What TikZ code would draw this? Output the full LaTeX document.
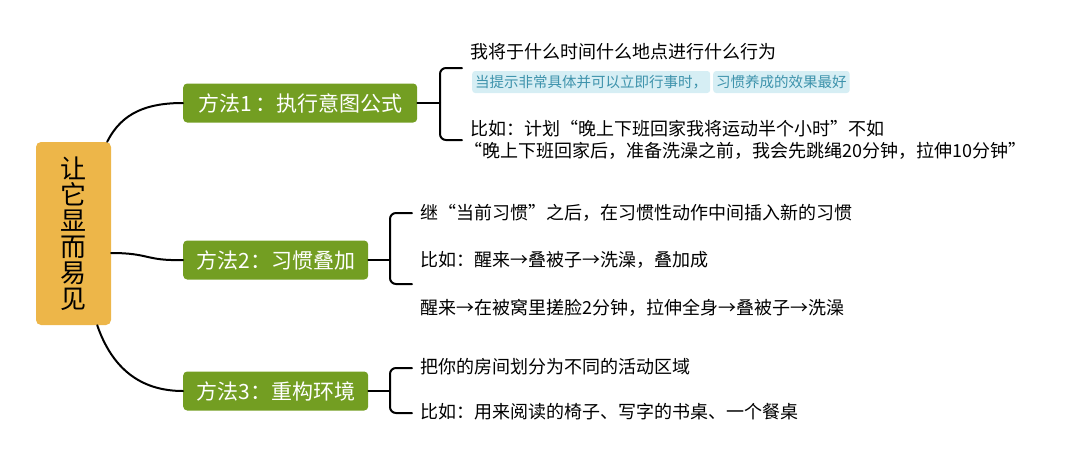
\documentclass[tikz,border=0pt]{standalone}
\usepackage{fontspec}
\setmainfont{Noto Sans CJK SC}
\definecolor{rootorange}{HTML}{EDB649}
\definecolor{methodgreen}{HTML}{739E22}
\definecolor{tagfill}{HTML}{D6EEF4}
\definecolor{tagtext}{HTML}{3E93AC}
\begin{document}
\begin{tikzpicture}[x=1pt,y=-1pt,line cap=round,line join=round,
  branch/.style={line width=2pt},
  rootbox/.style={fill=rootorange,rounded corners=5pt,minimum width=75pt,minimum height=183pt,
    align=center,font=\fontsize{26}{26}\selectfont},
  methodbox/.style={fill=methodgreen,text=white,rounded corners=4pt,anchor=west,
    minimum height=39pt,inner sep=0pt,font=\fontsize{21}{24}\selectfont},
  leaf/.style={anchor=west,inner sep=0pt,font=\fontsize{18}{20}\selectfont},
  tagbox/.style={anchor=west,fill=tagfill,text=tagtext,rounded corners=3pt,inner xsep=3pt,
    minimum height=22pt,inner ysep=0pt,font=\fontsize{14.5}{16}\selectfont}]
  \useasboundingbox (0,0) rectangle (1080,467);
  % root
  \node[rootbox] (root) at (73.5,233.5) {让\\它\\显\\而\\易\\见};
  % methods
  \node[methodbox,minimum width=234pt] (m1) at (183,103) {方法1\,：执行意图公式};
  \node[methodbox,minimum width=185pt] (m2) at (183,260) {方法2：习惯叠加};
  \node[methodbox,minimum width=185pt] (m3) at (183,391) {方法3：重构环境};
  \draw[branch] ([xshift=-4pt]root.north east) .. controls (122,112) and (148,103) .. (m1.west);
  \draw[branch] ([yshift=-19.5pt]root.east) .. controls (150,253) and (145,261) .. (m2.west);
  \draw[branch] ([xshift=-14pt]root.south east) .. controls (112,368) and (140,391) .. (m3.west);
  % method 1
  \node[leaf] (t11) at (470,52) {我将于什么时间什么地点进行什么行为};
  \node[tagbox] (g1) at (472,82) {当提示非常具体并可以立即行事时，};
  \node[tagbox] (g2) at (713,82) {习惯养成的效果最好};
  \node[leaf] (t12) at (470,129) {比如：计划“晚上下班回家我将运动半个小时”不如};
  \node[leaf] (t13) at (464,151) {“晚上下班回家后，准备洗澡之前，我会先跳绳20分钟，拉伸10分钟”};
  \coordinate (b1) at (440,103);
  \coordinate (b1a) at (462,68);
  \coordinate (b1b) at (462,140);
  \draw[branch] (m1.east) -- (b1);
  \draw[branch,rounded corners=6pt] (b1a) -- (b1a -| b1) -- (b1b -| b1) -- (b1b);
  % method 2
  \node[leaf] (t21) at (420,213) {继“当前习惯”之后，在习惯性动作中间插入新的习惯};
  \node[leaf] (t22) at (420,260) {比如：醒来→叠被子→洗澡，叠加成};
  \node[leaf] (t23) at (420,308) {醒来→在被窝里搓脸2分钟，拉伸全身→叠被子→洗澡};
  \coordinate (b2) at (390,260);
  \coordinate (b2a) at (412,213);
  \coordinate (b2b) at (412,284);
  \draw[branch] (m2.east) -- (b2);
  \draw[branch,rounded corners=6pt] (b2a) -- (b2a -| b2) -- (b2b -| b2) -- (b2b);
  % method 3
  \node[leaf] (t31) at (420,367) {把你的房间划分为不同的活动区域};
  \node[leaf] (t32) at (420,412) {比如：用来阅读的椅子、写字的书桌、一个餐桌};
  \coordinate (b3) at (390,391);
  \coordinate (b3a) at (412,368);
  \coordinate (b3b) at (412,413);
  \draw[branch] (m3.east) -- (b3);
  \draw[branch,rounded corners=6pt] (b3a) -- (b3a -| b3) -- (b3b -| b3) -- (b3b);
\end{tikzpicture}
\end{document}
